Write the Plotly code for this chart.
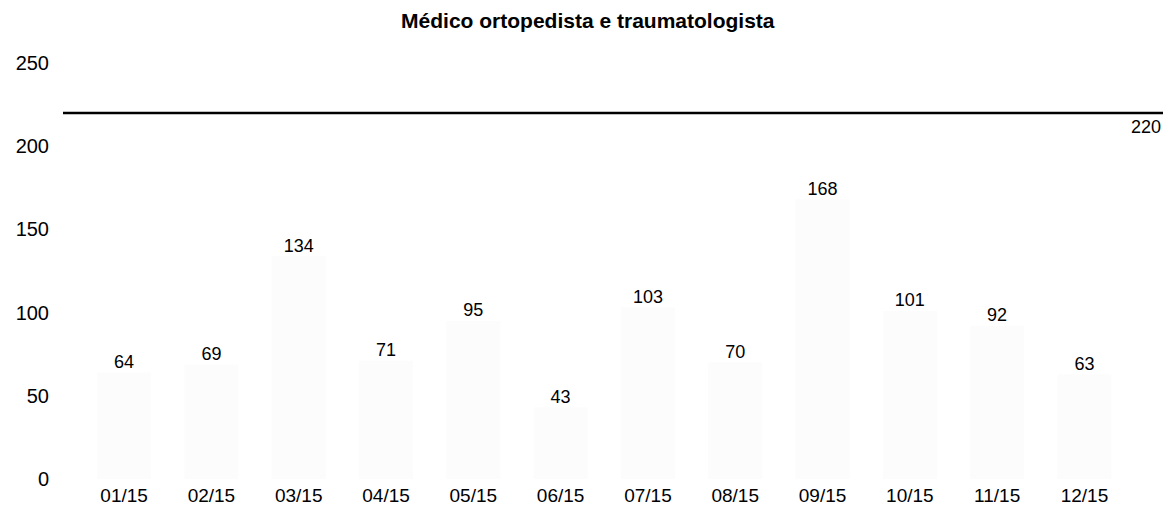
import plotly.graph_objects as go

months = ["01/15", "02/15", "03/15", "04/15", "05/15", "06/15",
          "07/15", "08/15", "09/15", "10/15", "11/15", "12/15"]
values = [64, 69, 134, 71, 95, 43, 103, 70, 168, 101, 92, 63]
reference_value = 220
title_text = "Médico ortopedista e traumatologista"
y_ticks = [0, 50, 100, 150, 200, 250]

xs = list(range(len(months)))
font_family = "Liberation Sans, Arial, sans-serif"

fig = go.Figure()
fig.add_trace(go.Bar(
    x=xs, y=values, width=0.62,
    marker=dict(color="#fcfcfc", line=dict(width=0)),
    hoverinfo="skip", showlegend=False,
))
fig.add_trace(go.Scatter(
    x=xs, y=values, mode="text", text=[str(v) for v in values],
    textposition="top center",
    textfont=dict(family=font_family, size=18, color="#000000"),
    showlegend=False, hoverinfo="skip",
))

fig.add_shape(type="line", xref="paper", x0=0, x1=1, yref="y",
              y0=reference_value, y1=reference_value,
              line=dict(color="#000000", width=2.5))
fig.add_annotation(xref="paper", x=1, yref="y", y=reference_value,
                   text=str(reference_value), showarrow=False,
                   xanchor="right", yanchor="top", yshift=-2,
                   font=dict(family=font_family, size=18, color="#000000"))

fig.update_layout(
    width=1155, height=498,
    margin=dict(l=55, r=0, t=55, b=27),
    paper_bgcolor="#ffffff", plot_bgcolor="#ffffff",
    title=dict(text="<b>" + title_text + "</b>", x=0.502, xanchor="center",
               y=0.99, yanchor="top",
               font=dict(family=font_family, size=21, color="#000000")),
    font=dict(family=font_family, size=20, color="#000000"),
)
fig.update_xaxes(
    tickmode="array", tickvals=xs, ticktext=months,
    range=[-0.7, 11.9], showgrid=False, zeroline=False, showline=False,
    ticks="", ticklabelstandoff=3, automargin=False,
    tickfont=dict(family=font_family, size=19, color="#000000"),
)
fig.update_yaxes(
    range=[0, 250], tickmode="array", tickvals=y_ticks,
    showgrid=False, zeroline=False, showline=False, ticks="",
    ticklabelstandoff=13, automargin=False,
    tickfont=dict(family=font_family, size=20, color="#000000"),
)

fig.write_html("out.html")
